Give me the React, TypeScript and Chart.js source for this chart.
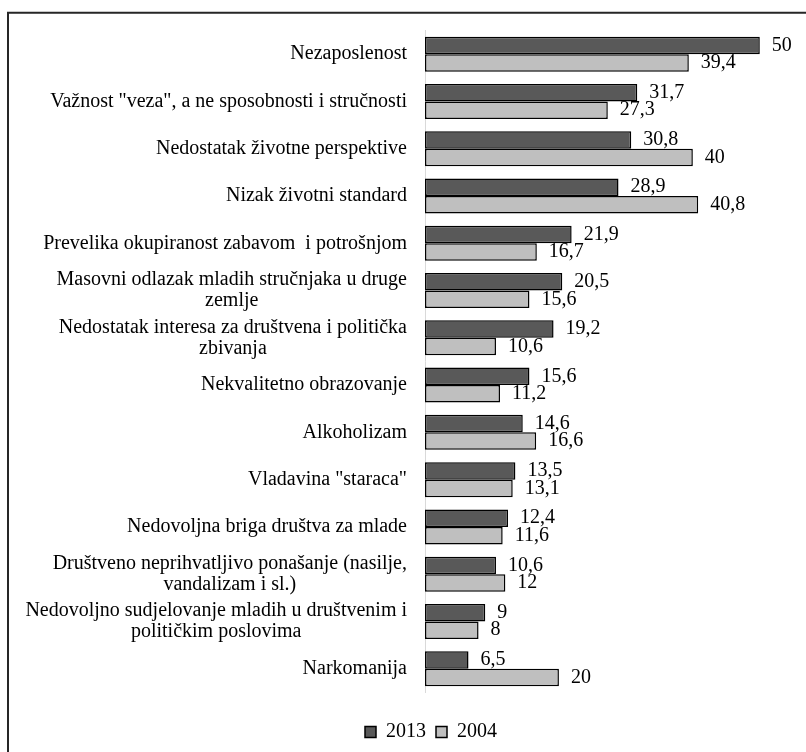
import { useEffect, useRef } from 'react';
import { Chart, registerables } from 'chart.js';

Chart.register(...registerables);

const categories: (string | string[])[] = [
  'Nezaposlenost',
  'Važnost "veza", a ne sposobnosti i stručnosti',
  'Nedostatak životne perspektive',
  'Nizak životni standard',
  'Prevelika okupiranost zabavom  i potrošnjom',
  ['Masovni odlazak mladih stručnjaka u druge', 'zemlje'],
  ['Nedostatak interesa za društvena i politička', 'zbivanja'],
  'Nekvalitetno obrazovanje',
  'Alkoholizam',
  'Vladavina "staraca"',
  'Nedovoljna briga društva za mlade',
  ['Društveno neprihvatljivo ponašanje (nasilje,', 'vandalizam i sl.)'],
  ['Nedovoljno sudjelovanje mladih u društvenim i', 'političkim poslovima'],
  'Narkomanija',
];

const values2013 = [50, 31.7, 30.8, 28.9, 21.9, 20.5, 19.2, 15.6, 14.6, 13.5, 12.4, 10.6, 9, 6.5];
const values2004 = [39.4, 27.3, 40, 40.8, 16.7, 15.6, 10.6, 11.2, 16.6, 13.1, 11.6, 12, 8, 20];
const seriesNames = ['2013', '2004'];
const seriesColors = ['#595959', '#bfbfbf'];

const FONT = "'Liberation Serif', 'Times New Roman', serif";

export default function App() {
  const ref = useRef<HTMLCanvasElement>(null);

  useEffect(() => {
    const canvas = ref.current;
    if (!canvas) return;

    const framePlugin = {
      id: 'frame',
      beforeDraw(chart: any) {
        const ctx = chart.ctx;
        ctx.save();
        ctx.fillStyle = '#ffffff';
        ctx.fillRect(0, 0, chart.width, chart.height);
        ctx.strokeStyle = '#262626';
        ctx.lineWidth = 2;
        ctx.beginPath();
        ctx.moveTo(8, chart.height);
        ctx.lineTo(8, 12.7);
        ctx.lineTo(chart.width, 12.7);
        ctx.stroke();
        ctx.restore();
      },
    };

    const labelPlugin = {
      id: 'textLabels',
      afterDatasetsDraw(chart: any) {
        const ctx = chart.ctx;
        const yScale = chart.scales.y;
        ctx.save();
        ctx.font = `20px ${FONT}`;
        ctx.fillStyle = '#000000';
        ctx.textBaseline = 'middle';
        ctx.textAlign = 'center';
        const right = chart.chartArea.left - 18;
        const lh = 21;
        categories.forEach((cat, i) => {
          const lines = Array.isArray(cat) ? cat : [cat];
          const w = Math.max(...lines.map((l) => ctx.measureText(l).width));
          const cy = yScale.getPixelForValue(i);
          const cx = right - w / 2;
          lines.forEach((l, j) => {
            ctx.fillText(l, cx, cy + (j - (lines.length - 1) / 2) * lh);
          });
        });
        ctx.textAlign = 'left';
        chart.data.datasets.forEach((ds: any, di: number) => {
          const meta = chart.getDatasetMeta(di);
          meta.data.forEach((el: any, k: number) => {
            const v = ds.data[k];
            ctx.fillText(String(v).replace('.', ','), el.x + 12, el.y);
          });
        });
        ctx.restore();
      },
    };

    const chart = new Chart(canvas, {
      type: 'bar',
      data: {
        labels: categories,
        datasets: [
          {
            label: seriesNames[0],
            data: values2013,
            backgroundColor: seriesColors[0],
            borderColor: '#000000',
            borderWidth: 1.5,
            borderSkipped: false,
            categoryPercentage: 0.74,
            barPercentage: 1,
          },
          {
            label: seriesNames[1],
            data: values2004,
            backgroundColor: seriesColors[1],
            borderColor: '#000000',
            borderWidth: 1.5,
            borderSkipped: false,
            categoryPercentage: 0.74,
            barPercentage: 1,
          },
        ],
      },
      options: {
        indexAxis: 'y',
        animation: false,
        responsive: false,
        layout: { padding: { left: 56, right: 0, top: 30.5, bottom: 0 } },
        scales: {
          x: {
            min: 0,
            max: 56.9,
            display: true,
            ticks: { display: false },
            grid: { display: false },
            border: { display: false },
            afterFit: (s: any) => {
              s.height = 19.6;
            },
          },
          y: {
            ticks: { display: false },
            grid: { display: false },
            border: { display: true, color: '#d9d9d9', width: 1 },
            afterFit: (s: any) => {
              s.width = 369;
            },
          },
        },
        plugins: {
          legend: {
            position: 'bottom',
            labels: {
              font: { family: FONT, size: 20 },
              color: '#000000',
              boxWidth: 11,
              boxHeight: 11,
              padding: 10,
            },
          },
          tooltip: { enabled: false },
        },
      } as any,
      plugins: [framePlugin, labelPlugin],
    });

    return () => {
      chart.destroy();
    };
  }, []);

  return (
    <div style={{ position: 'fixed', left: 0, top: 0, width: 806, height: 752 }}>
      <canvas ref={ref} width={806} height={752} style={{ display: 'block' }} />
    </div>
  );
}
